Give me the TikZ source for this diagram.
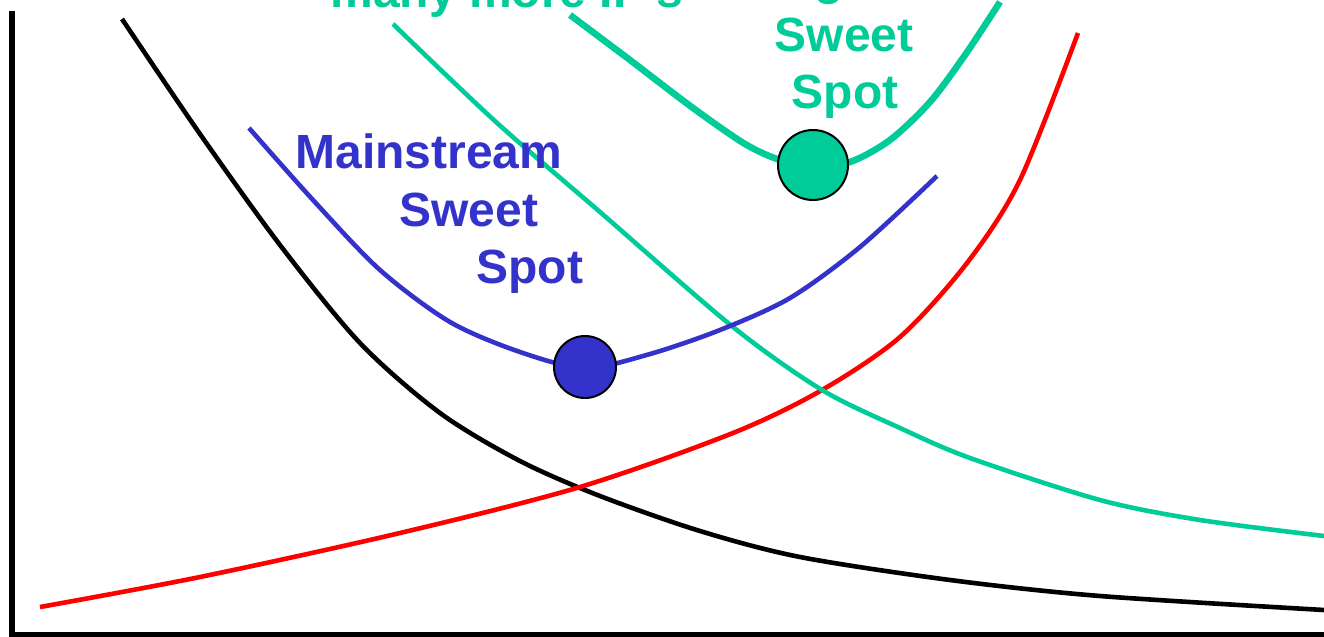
\documentclass[tikz,border=0pt]{standalone}
\usepackage{fontspec}
\setmainfont{Liberation Sans}
\usepackage{tikz}
\definecolor{Teal}{HTML}{00CC99}
\definecolor{Indigo}{HTML}{3333CC}
\definecolor{Scarlet}{HTML}{FF0000}

\begin{document}
\begin{tikzpicture}[x=0.5pt,y=-0.5pt,
  curve/.style={line width=2.3pt},
  dot/.style={circle,draw=black,line width=1pt,inner sep=0pt},
  lbl/.style={font=\fontsize{24}{29}\selectfont\bfseries,inner sep=0pt}]
\useasboundingbox (0,0) rectangle (1324,637);
\clip (0,0) rectangle (1324,637);
% axes
\draw[line width=2.7pt,line join=miter] (12,11) -- (12,634.5) -- (1324,634.5);
% curves
\draw[curve,black] plot[smooth] coordinates {(122,19) (200,134) (280,245) (360,343) (440,413) (520,461) (600,496) (700,531) (800,557) (950,580) (1100,596) (1324,610)};
\draw[curve,Scarlet] plot[smooth] coordinates {(40,607) (200,577) (400,533) (580,487) (733,433) (822,390) (900,337) (967,263) (1020,180) (1078,33)};
\draw[curve,Teal] plot[smooth] coordinates {(393,24) (496,122) (600,212) (733,327) (822,390) (900,428) (970,458) (1100,500) (1200,520) (1324,536)};
\draw[curve,Indigo] plot[smooth] coordinates {(249,128) (313,200) (380,270) (450,322) (520,352) (585,368) (650,354) (720,330) (790,298) (860,247) (937,176)};
\draw[line width=3.3pt,Teal] plot[smooth] coordinates {(570,15) (630,60) (693,108) (745,144) (780,160) (813,166) (850,162) (890,140) (930,102) (965,55) (1000,2)};
% sweet spots
\node[dot,fill=Indigo,minimum size=31pt] (mainDot) at (585,367) {};
\node[dot,fill=Teal,minimum size=35pt] (edgeDot) at (813,165) {};
% labels
\node[lbl,Indigo,anchor=base west] (mainA) at (295,168) {Mainstream};
\node[lbl,Indigo,anchor=base west] (mainB) at (399,226) {Sweet};
\node[lbl,Indigo,anchor=base west] (mainC) at (476,283) {Spot};
\node[lbl,Teal,anchor=base] (edgeA) at (843,-5) {Higher};
\node[lbl,Teal,anchor=base] (edgeB) at (844,51) {Sweet};
\node[lbl,Teal,anchor=base] (edgeC) at (845,108) {Spot};
\node[lbl,Teal,anchor=base west] (ipText) at (330,8) {many more IP's};
\end{tikzpicture}
\end{document}
